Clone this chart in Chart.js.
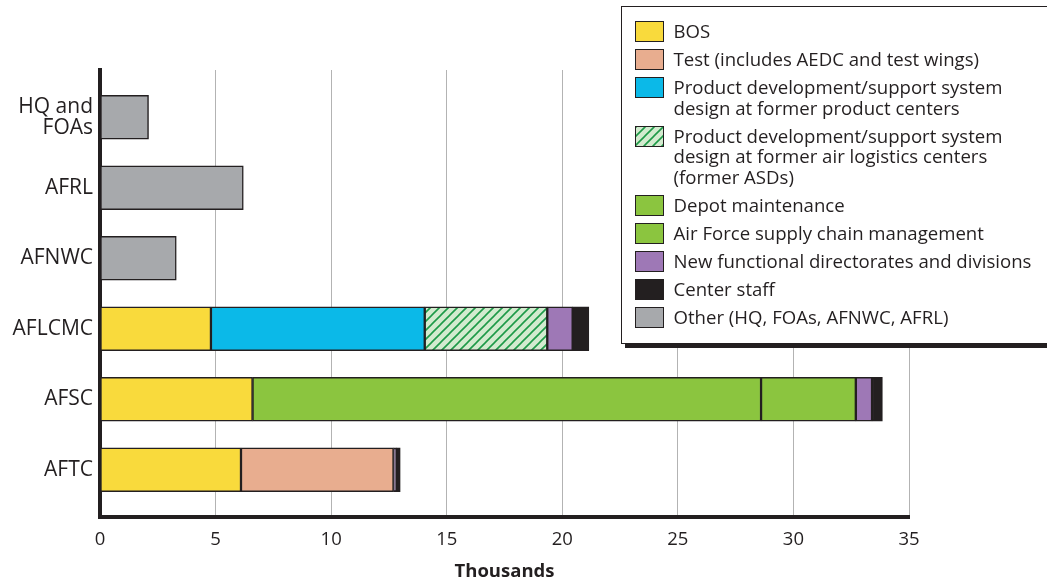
<!DOCTYPE html>
<html><head><meta charset="utf-8">
<script src="https://cdn.jsdelivr.net/npm/chart.js@4/dist/chart.umd.min.js"></script>
<style>
html,body{margin:0;padding:0;background:#fff;}
#wrap{position:relative;width:1047px;height:583px;}
#legend{position:absolute;left:621px;top:6px;width:440px;height:338px;box-sizing:border-box;border:1.5px solid #231F20;background:#fff;box-shadow:4px 4px 0 #231F20;font-family:"Open Sans",sans-serif;font-size:18.6px;color:#231F20;padding:14px 0 0 12.5px;}
.item{display:flex;align-items:flex-start;margin-bottom:7.2px;line-height:20.6px;}
.sw{width:29px;height:21px;box-sizing:border-box;border:1.5px solid #231F20;margin-right:10px;flex:none;margin-top:0px;}
</style></head>
<body><div id="wrap"><canvas id="c" width="1047" height="583"></canvas><div id="legend"></div></div>
<script>
const categories = [["HQ and","FOAs"],"AFRL","AFNWC","AFLCMC","AFSC","AFTC"];
const xTicks = [0,5,10,15,20,25,30,35];
const bos            = [null,null,null,4.8,6.6,6.1];
const test           = [null,null,null,null,null,6.6];
const productCenters = [null,null,null,9.25,null,null];
const formerALC      = [null,null,null,5.3,null,null];
const depot          = [null,null,null,null,22.0,null];
const supplyChain    = [null,null,null,null,4.1,null];
const newFunctional  = [null,null,null,1.1,0.7,0.12];
const centerStaff    = [null,null,null,0.7,0.45,0.17];
const other          = [2.1,6.2,3.3,null,null,null];
const seriesNames = ["BOS","Test (includes AEDC and test wings)","Product development/support system design at former product centers","Product development/support system design at former air logistics centers (former ASDs)","Depot maintenance","Air Force supply chain management","New functional directorates and divisions","Center staff","Other (HQ, FOAs, AFNWC, AFRL)"];
const legendLines = [["BOS"],["Test (includes AEDC and test wings)"],["Product development/support system","design at former product centers"],["Product development/support system","design at former air logistics centers","(former ASDs)"],["Depot maintenance"],["Air Force supply chain management"],["New functional directorates and divisions"],["Center staff"],["Other (HQ, FOAs, AFNWC, AFRL)"]];

// hatch pattern
const pc = document.createElement('canvas'); pc.width = 9; pc.height = 9;
const px = pc.getContext('2d');
px.fillStyle = '#D3EBCF'; px.fillRect(0,0,9,9);
px.strokeStyle = '#1E9A48'; px.lineWidth = 1.6;
px.beginPath(); px.moveTo(-1,10); px.lineTo(10,-1); px.moveTo(-1,1); px.lineTo(1,-1); px.moveTo(8,10); px.lineTo(10,8); px.stroke();
const hatch = document.getElementById('c').getContext('2d').createPattern(pc,'repeat');

const colors = ['#F9DA3C','#E8AD8F','#0BB9E8',hatch,'#8BC53F','#8BC53F','#9E78B6','#231F20','#A7A9AC'];
const cssBg = ['#F9DA3C','#E8AD8F','#0BB9E8','url('+pc.toDataURL()+')','#8BC53F','#8BC53F','#9E78B6','#231F20','#A7A9AC'];
const values = [bos,test,productCenters,formerALC,depot,supplyChain,newFunctional,centerStaff,other];

const datasets = values.map((arr,k)=>({
  label: seriesNames[k],
  data: arr.map((v,i)=>({x:v,y:i})).filter(d=>d.x!==null),
  backgroundColor: colors[k],
  borderColor: '#231F20',
  borderWidth: 1.5,
  borderSkipped: false,
  barThickness: 44
}));

const leg = document.getElementById('legend');
legendLines.forEach((lines,k)=>{
  const it = document.createElement('div'); it.className='item';
  const sw = document.createElement('div'); sw.className='sw'; sw.style.background = cssBg[k];
  const tx = document.createElement('div'); tx.innerHTML = lines.join('<br>');
  it.appendChild(sw); it.appendChild(tx); leg.appendChild(it);
});

new Chart(document.getElementById('c'), {
  type: 'bar',
  data: { datasets },
  options: {
    indexAxis: 'y', responsive: false, animation: false,
    layout: { padding: { top: 70, right: 138, left: 0, bottom: 0 } },
    plugins: { legend: { display: false }, tooltip: { enabled: false } },
    scales: {
      x: {
        type: 'linear', stacked: true, min: 0, max: 35,
        afterBuildTicks: s => { s.ticks = xTicks.map(v=>({value:v})); },
        afterFit: s => { s.height = 66; },
        grid: { color: '#B3B3B3', lineWidth: 1, drawTicks: false },
        border: { color: '#231F20', width: 4 },
        ticks: { color: '#231F20', padding: 12, font: { family: 'Open Sans', size: 18.5 } },
        title: { display: true, text: 'Thousands', color: '#231F20', padding: { top: 3, bottom: 0 }, font: { family: 'Open Sans', size: 18.5, weight: 'bold' } }
      },
      y: {
        type: 'linear', stacked: true, reverse: true, min: -0.67, max: 5.67, offset: false,
        afterBuildTicks: s => { s.ticks = categories.map((_,i)=>({value:i})); },
        afterFit: s => { s.width = 100; },
        grid: { display: false, drawTicks: false },
        border: { color: '#231F20', width: 4 },
        ticks: { color: '#231F20', padding: 7, font: { family: 'Open Sans', size: 21, lineHeight: 1.0 },
          callback: v => categories[Math.round(v)] }
      }
    }
  }
});
</script></body></html>
